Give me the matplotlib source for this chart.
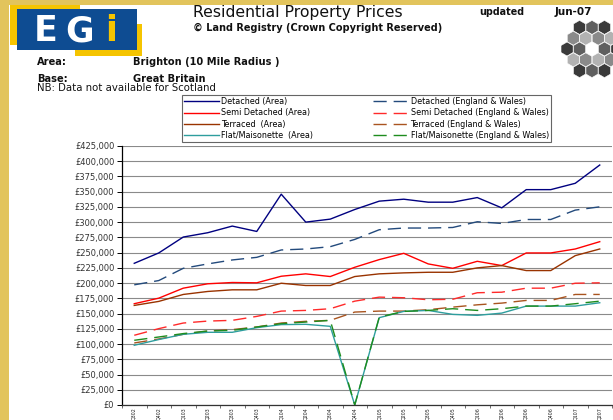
import matplotlib
matplotlib.use('Agg')
import matplotlib.pyplot as plt
from matplotlib.patches import Rectangle, RegularPolygon
from matplotlib.ticker import FuncFormatter, FixedLocator, NullFormatter
import numpy as np

plt.rcParams['font.family'] = ['DejaVu Sans']

# ---------------- data ----------------
quarters = ['Q302', 'Q402', 'Q103', 'Q203', 'Q303', 'Q403', 'Q104', 'Q204', 'Q304', 'Q404',
            'Q105', 'Q205', 'Q305', 'Q405', 'Q106', 'Q206', 'Q306', 'Q406', 'Q107', 'Q207']

detached_area = [232500, 249500, 275600, 282700, 293600, 284800, 345900, 300100, 305000, 320800,
                 334500, 337700, 332800, 332800, 340400, 323500, 353400, 353400, 363800, 393800]
detached_ew = [197200, 204200, 224300, 231500, 238000, 242300, 254400, 256000, 259800, 271700,
               287600, 290400, 290400, 291300, 300700, 297900, 304400, 304400, 319800, 325200]
semi_area = [166200, 175300, 191700, 198900, 201000, 200500, 211300, 215200, 210800, 226000,
             238600, 248900, 231500, 224300, 235800, 228800, 249500, 249500, 256000, 268000]
semi_ew = [114400, 125300, 134500, 137700, 138900, 145400, 154100, 155200, 158000, 170400,
           177000, 176000, 172700, 173500, 184200, 185100, 191700, 191700, 199800, 200500]
terraced_area = [163400, 170000, 181400, 186300, 189000, 189000, 199800, 196100, 196100, 210800,
                 215200, 216800, 217800, 217800, 225000, 228800, 220600, 220600, 245100, 256000]
terraced_ew = [101800, 108300, 116000, 121400, 123700, 128000, 134500, 137300, 138900, 152500,
               154100, 154100, 156400, 160600, 164400, 167200, 171600, 171600, 181400, 181400]
flat_area = [98000, 107400, 116000, 119300, 119300, 126900, 131900, 132400, 129100, 0,
             143300, 153600, 155200, 148700, 147100, 150800, 162300, 162300, 162300, 167800]
flat_ew = [106200, 111600, 117200, 121400, 122500, 128000, 133500, 136100, 138900, 0,
           144300, 153600, 155200, 158000, 155200, 158000, 162300, 162300, 166200, 170400]

series = [
    ('Detached (Area)', detached_area, '#000080', '-'),
    ('Detached (England & Wales)', detached_ew, '#234a7c', 'd'),
    ('Semi Detached (Area)', semi_area, '#FF0000', '-'),
    ('Semi Detached (England & Wales)', semi_ew, '#FF2a2a', 'd'),
    ('Terraced  (Area)', terraced_area, '#993300', '-'),
    ('Terraced (England & Wales)', terraced_ew, '#A9541F', 'd'),
    ('Flat/Maisonette  (Area)', flat_area, '#2E9E9E', '-'),
    ('Flat/Maisonette (England & Wales)', flat_ew, '#1E8C1E', 'd'),
]

# ---------------- figure ----------------
W, H = 613, 420
fig = plt.figure(figsize=(W / 100, H / 100), dpi=100)
fig.patch.set_facecolor('white')

# overlay axes in pixel coordinates for header / decorations
bg = fig.add_axes([0, 0, 1, 1])
bg.set_xlim(0, W)
bg.set_ylim(H, 0)
bg.axis('off')

gold = '#E2C45C'
bg.add_patch(Rectangle((0, 0), 9, H, color=gold, lw=0))
bg.add_patch(Rectangle((0, 0), W, 5, color=gold, lw=0))

# EGi logo
yellow = '#F5C400'
blue = '#0E4C92'
bg.add_patch(Rectangle((10, 5), 70, 40, color=yellow, lw=0))
bg.add_patch(Rectangle((75, 24), 67, 32, color=yellow, lw=0))
bg.add_patch(Rectangle((17, 9), 120, 41, color=blue, lw=0))
bg.text(46, 31, 'E', color='white', fontsize=25, fontweight='bold', ha='center', va='center')
bg.text(80, 31, 'G', color='white', fontsize=25, fontweight='bold', ha='center', va='center')
bg.text(111, 31, 'i', color=yellow, fontsize=25, fontweight='bold', ha='center', va='center')

# honeycomb decoration
r = 7.2
cx, cy = 592, 49
shades = ['#3a3a3a', '#8a8a8a', '#5f5f5f', '#b2b2b2']
for j in range(-4, 5):
    for i in range(-5, 6):
        hx = cx + i * np.sqrt(3) * r + (j % 2) * np.sqrt(3) * r / 2
        hy = cy + j * 1.5 * r
        d = np.hypot(hx - cx, hy - cy)
        if d > 30 or d < 3:
            continue
        col = shades[(i * 2 + j * 3) % 4]
        bg.add_patch(RegularPolygon((hx, hy), 6, radius=r * 0.97, orientation=0,
                                    facecolor=col, edgecolor='white', lw=0.4))

fig.canvas.draw()
renderer = fig.canvas.get_renderer()


def put(x, y, s, width=None, weight='normal', color='#111111', size=None):
    t = bg.text(x, y, s, fontsize=8, fontweight=weight, ha='left', va='center', color=color)
    if size is not None:
        t.set_fontsize(size)
    else:
        bb = t.get_window_extent(renderer)
        t.set_fontsize(8 * width / bb.width)
    return t


put(193, 12, 'Residential Property Prices', 210)
put(479, 12, 'updated', 45, 'bold')
put(555, 12, 'Jun-07', 37, 'bold')
put(193, 28, '\u00a9 Land Registry (Crown Copyright Reserved)', 249, 'bold')
br = put(133, 62, 'Brighton (10 Mile Radius )', 145, 'bold')
fs = br.get_fontsize()
put(37, 62, 'Area:', weight='bold', size=fs)
put(37, 79, 'Base:', weight='bold', size=fs)
put(133, 79, 'Great Britain', weight='bold', size=fs)
put(37, 88, 'NB: Data not available for Scotland', 179)

# ---------------- main chart ----------------
ax = fig.add_axes([122 / W, 1 - 405 / H, (612 - 122) / W, (405 - 146) / H])
ax.set_facecolor('white')
x = np.arange(len(quarters))
handles = []
for label, vals, col, style in series:
    if style == '-':
        ln, = ax.plot(x, vals, color=col, lw=1.0, label=label)
    else:
        ln, = ax.plot(x, vals, color=col, lw=1.0, linestyle=(0, (9.5, 5)), label=label)
    handles.append(ln)

ax.set_xlim(-0.5, len(quarters) - 0.5)
ax.set_ylim(0, 425000)
ax.yaxis.set_major_locator(FixedLocator(np.arange(0, 425001, 25000)))
ax.yaxis.set_major_formatter(FuncFormatter(lambda v, p: '\u00a3{:,.0f}'.format(v)))
ax.grid(axis='y', color='#8a8a8a', lw=0.8)
ax.set_axisbelow(True)

ax.xaxis.set_major_locator(FixedLocator(np.arange(-0.5, len(quarters), 1.0)))
ax.xaxis.set_major_formatter(NullFormatter())
ax.set_xticks(x, minor=True)
ax.set_xticklabels(quarters, minor=True, rotation=90, fontsize=3.4, color='#222222')
ax.tick_params(axis='x', which='major', length=2.5, width=0.6, color='#555555', direction='out')
ax.tick_params(axis='x', which='minor', length=0, pad=1.5)
ax.tick_params(axis='y', length=3.5, width=0.7, color='black', labelsize=6, labelcolor='#333333', pad=2)

for s in ['top', 'right']:
    ax.spines[s].set_visible(False)
ax.spines['left'].set_color('black')
ax.spines['left'].set_linewidth(0.9)
ax.spines['bottom'].set_color('#333333')
ax.spines['bottom'].set_linewidth(0.9)

order = [0, 2, 4, 6, 1, 3, 5, 7]
leg = fig.legend([handles[k] for k in order], [series[k][0] for k in order],
                 loc='upper left', bbox_to_anchor=(182 / W, 1 - 95 / H), ncol=2,
                 fontsize=5.8, frameon=True, fancybox=False, edgecolor='#666666',
                 framealpha=1, borderpad=0.25, labelspacing=0.3, handlelength=4.4,
                 handletextpad=0.2, columnspacing=7.5, borderaxespad=0)
leg.get_frame().set_linewidth(0.8)

fig.savefig('out.png', dpi=100)
